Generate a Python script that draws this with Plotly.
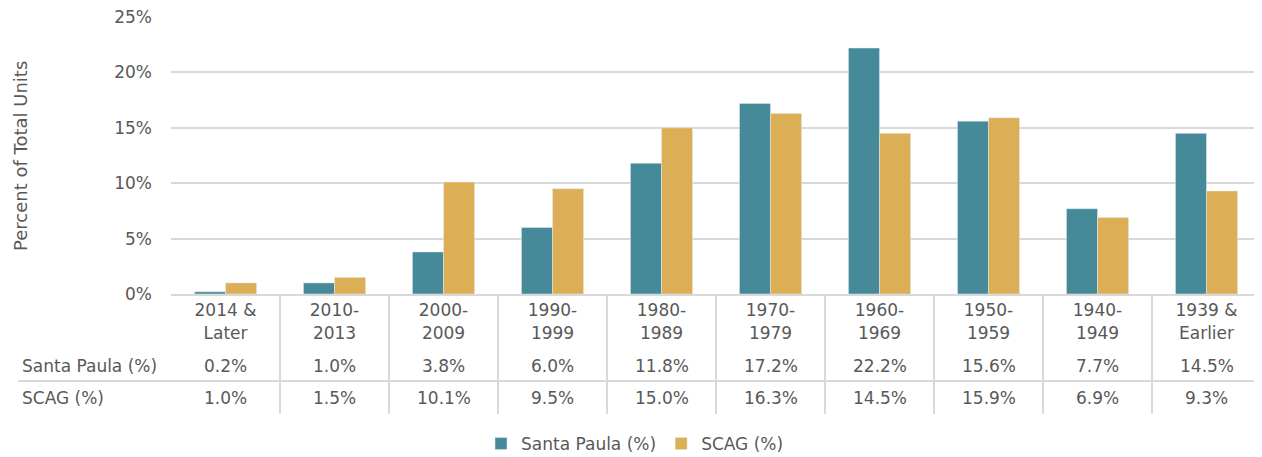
import plotly.graph_objects as go

categories = ["2014 &<br>Later", "2010-<br>2013", "2000-<br>2009", "1990-<br>1999", "1980-<br>1989",
              "1970-<br>1979", "1960-<br>1969", "1950-<br>1959", "1940-<br>1949", "1939 &<br>Earlier"]
santa_paula = [0.2, 1.0, 3.8, 6.0, 11.8, 17.2, 22.2, 15.6, 7.7, 14.5]
scag = [1.0, 1.5, 10.1, 9.5, 15.0, 16.3, 14.5, 15.9, 6.9, 9.3]
series_names = ["Santa Paula (%)", "SCAG (%)"]
y_ticks = [0, 5, 10, 15, 20, 25]
y_tick_labels = ["0%", "5%", "10%", "15%", "20%", "25%"]

TEAL = "#468A9A"
GOLD = "#DCAE55"
TXT = "#595959"
GRID = "#D9D9D9"
FONT = "DejaVu Sans"
FS = 17

# page offset (body margin of the html page)
OFF = 8
# plot area in page pixels
PL, PR, PT, PB = 171, 1261, 17, 294
W, H = 1262 - OFF, 457 - OFF
ML, MT = PL - OFF, PT - OFF
MR = W - (PR - OFF)
MB = H - (PB - OFF)
PH = PB - PT
PW = PR - PL

def py(ypix):
    return (PB - ypix) / PH

def px(xpix):
    return (xpix - PL) / PW

fig = go.Figure()
fig.add_trace(go.Bar(x=categories, y=santa_paula, name=series_names[0], marker_color=TEAL))
fig.add_trace(go.Bar(x=categories, y=scag, name=series_names[1], marker_color=GOLD))

shapes = []
annotations = []
n = len(categories)
for k in range(1, n):
    shapes.append(dict(type="line", xref="x", yref="paper", x0=k - 0.5, x1=k - 0.5,
                       y0=py(296), y1=py(414), line=dict(color=GRID, width=2)))
shapes.append(dict(type="line", xref="paper", yref="paper", x0=px(18), x1=1,
                   y0=py(381), y1=py(381), line=dict(color=GRID, width=2)))

rows = [(series_names[0], santa_paula, 366), (series_names[1], scag, 398)]
for label, vals, ypix in rows:
    annotations.append(dict(text=label, xref="paper", yref="paper", x=px(20), y=py(ypix),
                            xanchor="left", yanchor="middle", showarrow=False,
                            font=dict(size=FS, color=TXT, family=FONT)))
    for i, v in enumerate(vals):
        annotations.append(dict(text=f"{v:.1f}%", xref="x", yref="paper", x=categories[i], y=py(ypix),
                                xanchor="center", yanchor="middle", showarrow=False,
                                font=dict(size=FS, color=TXT, family=FONT)))

annotations.append(dict(text="Percent of Total Units", xref="paper", yref="paper", x=px(20), y=py(156),
                        xanchor="center", yanchor="middle", textangle=-90, showarrow=False,
                        font=dict(size=18, color=TXT, family=FONT)))

fig.update_layout(
    width=W, height=H,
    margin=dict(l=ML, r=MR, t=MT, b=MB, autoexpand=False),
    plot_bgcolor="white", paper_bgcolor="white",
    barmode="group", bargap=0.43, bargroupgap=0,
    font=dict(family=FONT, size=FS, color=TXT),
    shapes=shapes, annotations=annotations,
    legend=dict(orientation="h", xref="container", x=0.5, xanchor="center", y=py(444), yanchor="middle",
                font=dict(size=FS, color=TXT, family=FONT), traceorder="normal", itemwidth=30),
    yaxis=dict(range=[0, 25], tickvals=y_ticks, ticktext=y_tick_labels, showgrid=True, gridcolor=GRID,
               gridwidth=2, zeroline=False, showline=False, ticks="", automargin=False,
               ticklabeloverflow="allow", ticklabelstandoff=18, tickfont=dict(size=FS, color=TXT)),
    xaxis=dict(showline=True, linecolor=GRID, linewidth=2, ticks="", automargin=False,
               tickfont=dict(size=FS, color=TXT), tickangle=0),
)

fig.write_html("out.html")
